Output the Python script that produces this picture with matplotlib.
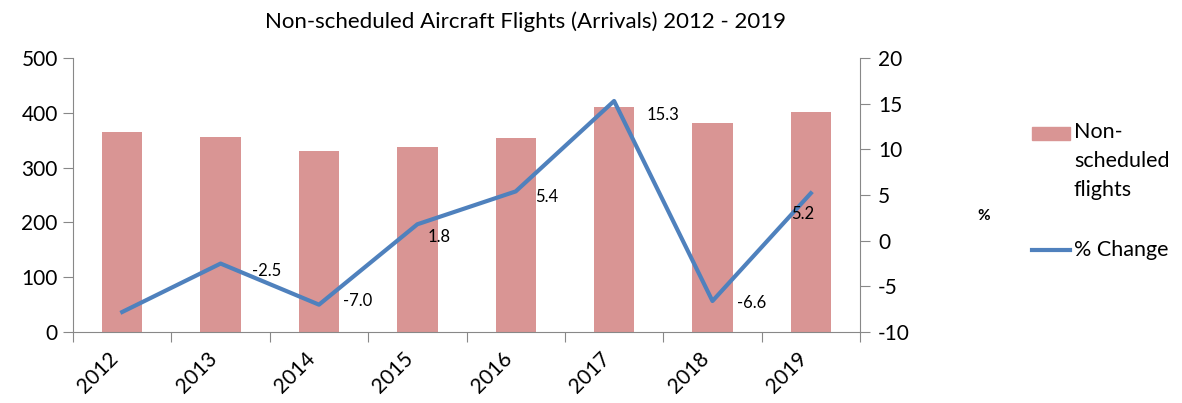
import matplotlib
matplotlib.use('Agg')
import matplotlib.pyplot as plt
import matplotlib.transforms as mtransforms
from matplotlib.patches import Rectangle
from matplotlib.lines import Line2D

plt.rcParams['font.family'] = ['Lato', 'DejaVu Sans']
plt.rcParams['axes.unicode_minus'] = False

# data
years = ['2012', '2013', '2014', '2015', '2016', '2017', '2018', '2019']
flights = [365, 356, 331, 337, 355, 410, 382, 402]
pct_change = [-7.8, -2.5, -7.0, 1.8, 5.4, 15.3, -6.6, 5.2]
pct_labels = ['', '-2.5', '-7.0', '1.8', '5.4', '15.3', '-6.6', '5.2']
# label offsets in pixels (left edge of text, relative to the point)
label_dx = [0, 31, 24, 10, 19, 33, 25, -20]
label_dy = [0, -7, 4, -13, -6, -14, -2, -21]

bar_color = '#D99594'
line_color = '#4F81BD'
axis_color = '#888888'

fig = plt.figure(figsize=(11.82, 4.03), dpi=100)
ax = fig.add_axes([0.0618, 0.176, 0.6658, 0.680])
ax2 = ax.twinx()

x = list(range(len(years)))
ax.bar(x, flights, width=0.41, color=bar_color, zorder=2)
ax.set_xlim(-0.5, len(years) - 0.5)
ax.set_ylim(0, 500)
ax.set_yticks(range(0, 501, 100))

ax2.plot(x, pct_change, color=line_color, linewidth=3, zorder=3)
ax2.set_ylim(-10, 20)
ax2.set_yticks(range(-10, 21, 5))
for xi, yi, lab, dx, dy in zip(x, pct_change, pct_labels, label_dx, label_dy):
    if lab:
        ax2.annotate(lab, (xi, yi), xytext=(dx, dy), textcoords='offset pixels',
                     ha='left', va='center', fontsize=12, color='black', zorder=4)

# axes styling
for a in (ax, ax2):
    a.spines['top'].set_visible(False)
    for s in ('left', 'right', 'bottom'):
        a.spines[s].set_color(axis_color)
ax.spines['right'].set_visible(False)
ax2.spines['left'].set_visible(False)
ax2.spines['bottom'].set_visible(False)

ax.tick_params(axis='y', labelsize=15, length=7, color=axis_color, pad=4)
ax2.tick_params(axis='y', labelsize=15, length=7, color=axis_color, pad=6)

# category ticks between bars, labels under bars
ax.set_xticks([i - 0.5 for i in range(len(years) + 1)], minor=False)
ax.set_xticklabels([])
ax.tick_params(axis='x', which='major', length=7, color=axis_color)
ax.set_xticks(x, minor=True)
ax.set_xticklabels(years, minor=True, rotation=45, ha='right',
                   rotation_mode='anchor', fontsize=15)
ax.tick_params(axis='x', which='minor', length=0, pad=12)
offset = mtransforms.ScaledTranslation(-0.14, 0, fig.dpi_scale_trans)
for lbl in ax.get_xticklabels(minor=True):
    lbl.set_transform(lbl.get_transform() + offset)

fig.text(0.445, 0.945, 'Non-scheduled Aircraft Flights (Arrivals) 2012 - 2019',
         ha='center', va='center', fontsize=16)
fig.text(0.832, 0.465, '%', ha='center', va='center', fontsize=11, fontweight='bold')

# legend
fig.patches.append(Rectangle((1032 / 1182, 1 - 140 / 403), 38 / 1182, 13 / 403,
                             transform=fig.transFigure, color=bar_color))
fig.text(1074 / 1182, 1 - 122 / 403, 'Non-\nscheduled\nflights', ha='left', va='top',
         fontsize=15.5, linespacing=1.55, transform=fig.transFigure)
fig.lines.append(Line2D([1032 / 1182, 1070 / 1182], [1 - 250 / 403, 1 - 250 / 403],
                        transform=fig.transFigure, color=line_color, linewidth=3))
fig.text(1074 / 1182, 1 - 250 / 403, '% Change', ha='left', va='center', fontsize=15.5)

plt.savefig('out.png', dpi=100)
